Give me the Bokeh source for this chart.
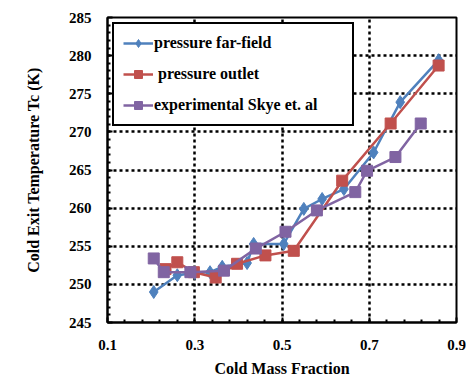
from bokeh.plotting import figure
from bokeh.models import FixedTicker, Range1d
from bokeh.embed import file_html
from bokeh.resources import INLINE

# pressure far-field
ff_x = [0.206, 0.26, 0.30, 0.335, 0.363, 0.42, 0.435, 0.504, 0.55, 0.592, 0.642, 0.71, 0.771, 0.859]
ff_y = [249.0, 251.2, 251.5, 251.6, 252.3, 252.8, 255.3, 255.3, 259.9, 261.2, 262.5, 267.3, 273.9, 279.4]
# pressure outlet
po_x = [0.233, 0.26, 0.298, 0.348, 0.397, 0.462, 0.527, 0.638, 0.749, 0.859]
po_y = [252.0, 252.9, 251.6, 250.9, 252.7, 253.8, 254.4, 263.6, 271.1, 278.7]
# experimental Skye et. al
ex_x = [0.206, 0.229, 0.29, 0.367, 0.44, 0.508, 0.58, 0.668, 0.695, 0.76, 0.818]
ex_y = [253.4, 251.6, 251.6, 251.8, 254.7, 256.9, 259.7, 262.1, 264.9, 266.7, 271.1]

x_major = [0.1, 0.3, 0.5, 0.7, 0.9]
x_minor = [0.14, 0.18, 0.22, 0.26, 0.34, 0.38, 0.42, 0.46, 0.54, 0.58, 0.62, 0.66,
           0.74, 0.78, 0.82, 0.86]
y_major = [245, 250, 255, 260, 265, 270, 275, 280, 285]
y_minor = [y for y in range(245, 286) if y % 5 != 0]
x_grid = [0.3, 0.5, 0.7]
y_grid = [250, 255, 260, 265, 270, 275, 280]

FONT = "Liberation Serif"
BLUE = "#4F81BD"
RED = "#C0504D"
PURPLE = "#8064A2"

p = figure(frame_width=349, frame_height=305, output_backend="svg", toolbar_location=None,
           x_range=Range1d(0.1, 0.9), y_range=Range1d(245, 285),
           min_border_left=107, min_border_top=17, min_border_right=10, min_border_bottom=58,
           background_fill_color="white", border_fill_color="white")

p.outline_line_color = "black"
p.outline_line_width = 2
p.outline_line_alpha = 1

p.xgrid.ticker = FixedTicker(ticks=x_grid)
p.ygrid.ticker = FixedTicker(ticks=y_grid)
for g in (p.xgrid, p.ygrid):
    g.grid_line_color = "black"
    g.grid_line_alpha = 1
    g.grid_line_width = 2.5
    g.grid_line_dash = "3 3"

p.xaxis.ticker = FixedTicker(ticks=x_major, minor_ticks=x_minor)
p.yaxis.ticker = FixedTicker(ticks=y_major, minor_ticks=y_minor)
p.xaxis.major_label_overrides = {v: f"{v:.1f}" for v in x_major}

for ax in (p.xaxis, p.yaxis):
    ax.axis_line_color = "black"
    ax.axis_line_width = 2
    ax.major_tick_in = 5
    ax.major_tick_out = 0
    ax.minor_tick_in = 3
    ax.minor_tick_out = 0
    ax.major_tick_line_width = 2
    ax.minor_tick_line_width = 2
    ax.major_label_text_font = FONT
    ax.major_label_text_font_style = "bold"
    ax.major_label_text_font_size = "15px"
    ax.major_label_text_color = "black"
    ax.axis_label_text_font = FONT
    ax.axis_label_text_font_style = "bold"
    ax.axis_label_text_font_size = "16px"
    ax.axis_label_text_color = "black"

p.xaxis.major_label_standoff = 17
p.yaxis.major_label_standoff = 16
p.xaxis.axis_label = "Cold Mass Fraction"
p.yaxis.axis_label = "Cold Exit Temperature Tc (K)"
p.xaxis.axis_label_standoff = 7
p.yaxis.axis_label_standoff = 24

p.line(ff_x, ff_y, line_color=BLUE, line_width=2.5, legend_label="pressure far-field")
p.scatter(ff_x, ff_y, marker="diamond", size=13, fill_color=BLUE, line_color=BLUE,
          legend_label="pressure far-field")
p.line(po_x, po_y, line_color=RED, line_width=2.5, legend_label=" pressure outlet")
p.scatter(po_x, po_y, marker="square", size=11, fill_color=RED, line_color=RED,
          legend_label=" pressure outlet")
p.line(ex_x, ex_y, line_color=PURPLE, line_width=2.5, legend_label="experimental Skye et. al")
p.scatter(ex_x, ex_y, marker="square", size=11, fill_color=PURPLE, line_color=PURPLE,
          legend_label="experimental Skye et. al")

lg = p.legend[0]
lg.location = "top_left"
lg.margin = 5
lg.padding = 9
lg.spacing = 11
lg.glyph_width = 30
lg.glyph_height = 20
lg.label_height = 20
lg.label_width = 189
lg.label_standoff = 1
lg.border_line_color = "black"
lg.border_line_alpha = 1
lg.border_line_width = 2
lg.background_fill_alpha = 1
lg.label_text_font = FONT
lg.label_text_font_style = "bold"
lg.label_text_font_size = "16px"
lg.label_text_color = "black"

open("out.html", "w").write(file_html(p, INLINE))
